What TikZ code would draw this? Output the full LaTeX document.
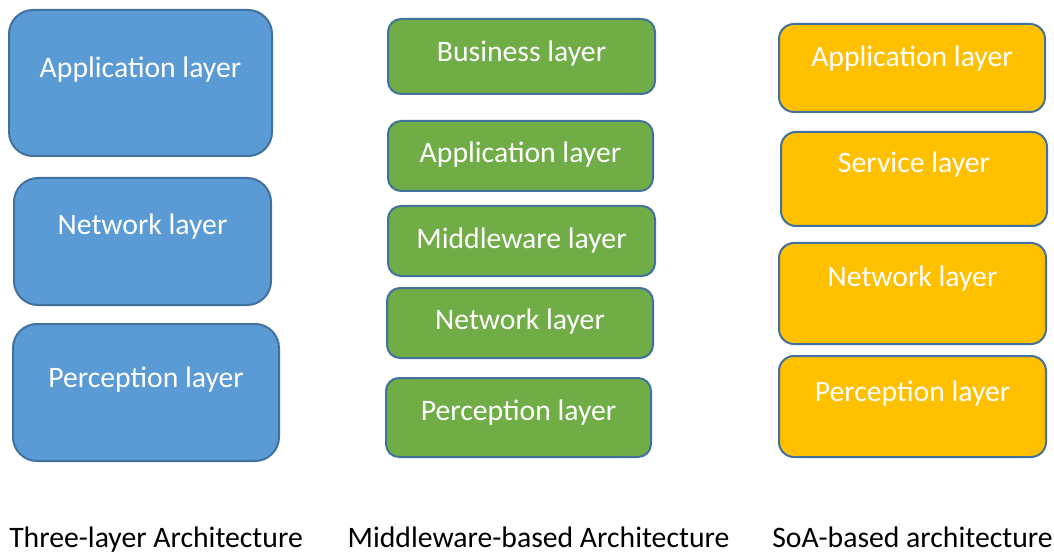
\documentclass[tikz,border=0pt]{standalone}
\usepackage{fontspec}
\setmainfont{Carlito}
\definecolor{edgeblue}{HTML}{41719C}
\definecolor{fillblue}{HTML}{5B9BD5}
\definecolor{fillgreen}{HTML}{70AD47}
\definecolor{fillorange}{HTML}{FFC000}

% #1 name, #2 style, #3 left, #4 top, #5 right, #6 bottom, #7 text baseline, #8 text
\newcommand\layerbox[8]{%
  \pgfmathsetmacro\lbw{#5-#3}%
  \pgfmathsetmacro\lbh{#6-#4}%
  \pgfmathsetmacro\lbx{(#3+#5)/2}%
  \pgfmathsetmacro\lby{(#4+#6)/2}%
  \node[#2, minimum width=\lbw pt, minimum height=\lbh pt] (#1) at (\lbx,\lby) {};
  \node[boxtext] (#1-t) at (\lbx,#7) {#8};
}

\begin{document}
\begin{tikzpicture}[x=1pt,y=-1pt,
  layer/.style={draw=edgeblue, line width=2pt, inner sep=0pt, outer sep=0pt, rectangle},
  bluebox/.style={layer, fill=fillblue, rounded corners=24pt},
  greenbox/.style={layer, fill=fillgreen, rounded corners=13pt},
  orangebox/.style={layer, fill=fillorange, rounded corners=15pt},
  boxtext/.style={anchor=base, text=white, inner sep=0pt, font=\fontsize{29.7}{35}\selectfont},
  caption/.style={anchor=base, text=black, inner sep=0pt, font=\fontsize{29.7}{35}\selectfont}]
\useasboundingbox (0,0) rectangle (1054,553);

% Three-layer architecture
\layerbox{ta}{bluebox}{9}{10}{272}{156}{78}{Application layer}
\layerbox{tn}{bluebox}{14}{178}{271}{305}{235}{Network layer}
\layerbox{tp}{bluebox}{13}{324}{279}{461}{387}{Perception layer}

% Middleware-based architecture
\layerbox{mb}{greenbox}{388}{19}{655}{94}{62}{Business layer}
\layerbox{ma}{greenbox}{388}{121}{653}{191}{163}{Application layer}
\layerbox{mm}{greenbox}{388}{206}{655}{276}{248}{Middleware layer}
\layerbox{mn}{greenbox}{387}{288}{653}{358}{329}{Network layer}
\layerbox{mp}{greenbox}{386}{378}{651}{457}{420}{Perception layer}

% SoA-based architecture
\layerbox{sa}{orangebox}{779}{24}{1045}{112}{67}{Application layer}
\layerbox{ss}{orangebox}{781}{132}{1047}{226}{173}{Service layer}
\layerbox{sn}{orangebox}{779}{243}{1046}{344}{287}{Network layer}
\layerbox{sp}{orangebox}{779}{356}{1046}{457}{401}{Perception layer}

% Captions
\node[caption] (c1) at (156,547) {Three-layer Architecture};
\node[caption] (c2) at (538.5,547) {Middleware-based Architecture};
\node[caption] (c3) at (912.5,547) {SoA-based architecture};
\end{tikzpicture}
\end{document}
